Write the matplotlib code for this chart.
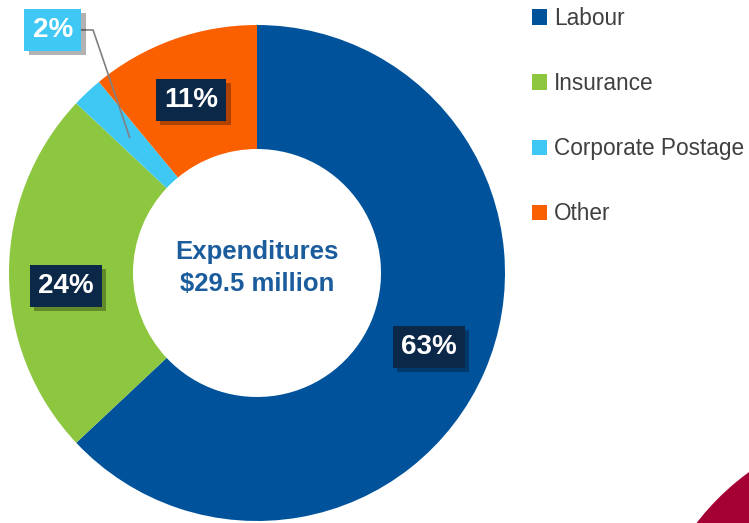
import numpy as np
import matplotlib
matplotlib.use('Agg')
import matplotlib.pyplot as plt
import matplotlib.patheffects as pe
from matplotlib.patches import Circle

# Données
categories = ['Labour', 'Insurance', 'Corporate Postage', 'Other']
valeurs = [63, 24, 2, 11]
etiquettes = ['63%', '24%', '2%', '11%']
couleurs = ['#00539B', '#8DC63F', '#40C8F4', '#FA5F00']
# position des étiquettes (x, y) dans le repère du graphique (rayon = 1)
pos_etiquettes = [(0.694, -0.298), (-0.77, -0.052), (-0.823, 0.98), (-0.266, 0.698)]
titre_centre = 'Expenditures\n$29.5 million'

plt.rcParams['font.family'] = ['Liberation Sans', 'DejaVu Sans']

fig = plt.figure(figsize=(7.49, 5.23), dpi=100)

# Décoration rouge en bas à droite
fig.add_artist(Circle((9.0, -1.57), 2.57, transform=fig.dpi_scale_trans,
                      color='#A50034', lw=0))

# Axe du graphique en anneau (centre ~ (257, 273) px, rayon ~ 248 px)
cx, cy, r = 257, 273, 248
ax = fig.add_axes([(cx - r) / 749, (523 - cy - r) / 523, 2 * r / 749, 2 * r / 523])
wedges, _ = ax.pie(valeurs, colors=couleurs, startangle=90, counterclock=False,
                   radius=1, wedgeprops=dict(width=0.5, linewidth=0))
ax.set_xlim(-1, 1)
ax.set_ylim(-1, 1)
ax.set_aspect('equal')
ax.axis('off')

ombre = [pe.withSimplePatchShadow(offset=(3, -3), shadow_rgbFace='#000000', alpha=0.3)]

# Étiquettes des pourcentages
for w, lab, col, (x, y) in zip(wedges, etiquettes, couleurs, pos_etiquettes):
    if lab == '2%':
        # étiquette extérieure avec ligne de rappel
        ang = np.deg2rad((w.theta1 + w.theta2) / 2)
        px, py = 0.75 * np.cos(ang), 0.75 * np.sin(ang)
        ax.plot([px, -0.661, x + 0.1], [py, y, y], color='#808080', lw=1.2, zorder=3)
        t = ax.text(x, y, lab, ha='center', va='center', color='white',
                    fontsize=20, fontweight='bold', zorder=4,
                    bbox=dict(boxstyle='square,pad=0.3', fc=col, ec='none'))
    else:
        t = ax.text(x, y, lab, ha='center', va='center', color='white',
                    fontsize=20, fontweight='bold', zorder=4,
                    bbox=dict(boxstyle='square,pad=0.3', fc='#0C2849', ec='none'))
    t.get_bbox_patch().set_path_effects(ombre)

# Texte central
ax.text(0, 0.02, titre_centre, ha='center', va='center', color='#1A5C9C',
        fontsize=18.5, fontweight='bold', linespacing=1.38)

# Légende
leg = fig.legend(wedges, categories, loc='upper left',
                 bbox_to_anchor=(532 / 749, 1 - 7 / 523), frameon=False,
                 prop={'size': 16.3},
                 handlelength=0.68, handleheight=0.68, handletextpad=0.28,
                 labelspacing=1.86, borderpad=0, borderaxespad=0)
for txt in leg.get_texts():
    txt.set_color('#404040')

fig.savefig('out.png', dpi=100)
